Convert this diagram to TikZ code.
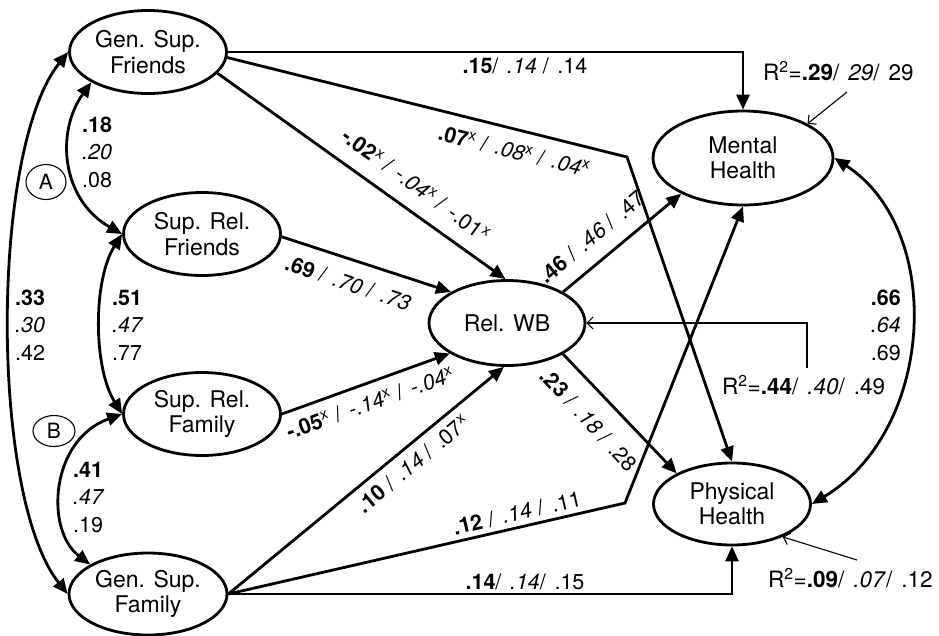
\documentclass[tikz,border=0pt]{standalone}
\usepackage{fontspec}
\setmainfont{TeX Gyre Heros}
\usepackage{tikz}
\usetikzlibrary{calc,shapes.geometric,arrows.meta}

\newcommand{\sx}{\textsuperscript{x}}
\newcommand{\slsep}{/\hspace{0.4em}}

\begin{document}
\begin{tikzpicture}[x=1pt,y=-1pt,
    latent/.style={draw,ellipse,line width=2.8pt,inner sep=0pt,align=center,
      font=\fontsize{23}{25.5}\selectfont},
    path/.style={line width=2.8pt,-{Triangle[length=15pt,width=13pt]}},
    corr/.style={line width=2.8pt,
      {Triangle[length=15pt,width=13pt]}-{Triangle[length=15pt,width=13pt]}},
    resid/.style={line width=1.1pt,-{Straight Barb[length=6pt,width=12pt]}},
    coef/.style={font=\fontsize{21.5}{24}\selectfont,inner sep=0pt},
    rsq/.style={font=\fontsize{22.5}{24}\selectfont,inner sep=0pt,anchor=base west},
    tag/.style={draw,ellipse,line width=1.1pt,inner sep=0pt,
      font=\fontsize{21}{24}\selectfont}]

  \useasboundingbox (0,0) rectangle (939,635);

  %% Latent variables
  \node[latent,minimum width=157,minimum height=83] (GSF)   at (148,52)  {Gen. Sup.\\Friends};
  \node[latent,minimum width=157,minimum height=83] (SRF)   at (202,234) {Sup. Rel.\\Friends};
  \node[latent,minimum width=157,minimum height=83] (SRFam) at (202,414) {Sup. Rel.\\Family};
  \node[latent,minimum width=158,minimum height=82] (GSFam) at (148,594) {Gen. Sup.\\Family};
  \node[latent,minimum width=156,minimum height=85] (RWB)   at (507,323) {Rel. WB};
  \node[latent,minimum width=180,minimum height=94] (MH)    at (743,158) {Mental\\Health};
  \node[latent,minimum width=157,minimum height=82] (PH)    at (732,504) {Physical\\Health};

  %% Tags
  \node[tag,minimum width=40,minimum height=35] (A) at (46,182) {A};
  \node[tag,minimum width=42,minimum height=31] (B) at (54,431) {B};

  %% Bends of the two long paths
  \coordinate (k1) at (627,157);
  \coordinate (k2) at (625,503);

  %% Paths
  \draw[path] (GSF.east) -| (MH.north);
  \draw[path] (GSF.-4) -- (k1) -- (PH.north);
  \draw[path] (GSF.-17) -- (RWB.92);
  \draw[path] (SRF.-2) -- (RWB.151);
  \draw[path] (SRFam.east) -- (RWB.208);
  \draw[path] (GSFam.east) -- (RWB.266);
  \draw[path] (GSFam.east) -- (k2) -- (MH.south);
  \draw[path] (GSFam.east) -| (PH.south);
  \draw[path] (RWB.29) -- (MH.210);
  \draw[path] (RWB.-29) -- (PH.151);

  %% Correlations
  \draw[corr] (GSF.west) .. controls (-10,150) and (-10,496) .. (GSFam.west);
  \draw[corr] (GSF.208) .. controls (55,133) and (62,200) .. (SRF.west);
  \draw[corr] (SRF.west) .. controls (93,280) and (93,367) .. (SRFam.west);
  \draw[corr] (SRFam.west) .. controls (50,440) and (45,530) .. (GSFam.153);
  \draw[corr] (MH.east) .. controls (945,230) and (935,430) .. (PH.east);

  \foreach \nm/\x/\y/\anc/\a/\b/\c in {rA/82/132/west/.18/.20/.08,
      rSR/112/305/west/.51/.47/.77, rGS/15/305/west/.33/.30/.42,
      rB/73/477/west/.41/.47/.19, rMP/901/305/east/.66/.64/.69}
  {
    \node[coef,anchor=base \anc] (\nm1) at (\x,\y)    {\textbf{\a}};
    \node[coef,anchor=base \anc] (\nm2) at (\x,\y+27) {\textit{\b}};
    \node[coef,anchor=base \anc] (\nm3) at (\x,\y+55) {\c};
  }

  %% Path coefficients
  \node[coef] (c1) at (525,66) {\textbf{.15}\slsep\textit{.14} \slsep.14};
  \node[coef,rotate=-14] (c2) at (514,151) {\textbf{.07}\sx{} \slsep\textit{.08}\sx{} \slsep\textit{.04}\sx};
  \node[coef,rotate=-36] (c3) at (416,185) {\textbf{-.02}\sx{} \slsep\textit{-.04}\sx{} \slsep-.01\sx};
  \node[coef,rotate=-18.5] (c4) at (348,283) {\textbf{.69} \slsep\textit{.70} \slsep\textit{.73}};
  \node[coef,rotate=19.6] (c5) at (370,403) {\textbf{-.05}\sx{} \slsep\textit{-.14}\sx{} \slsep\textit{-.04}\sx};
  \node[coef,rotate=39.6] (c6) at (413,464) {\textbf{.10} \slsep\textit{.14} \slsep.07\sx};
  \node[coef,rotate=13] (c7) at (517,513) {\textbf{.12} \slsep\textit{.14} \slsep.11};
  \node[coef] (c8) at (525,582) {\textbf{.14}\slsep\textit{.14}\slsep.15};
  \node[coef,rotate=40] (c9) at (592,237) {\textbf{.46} \slsep\textit{.46} \slsep.47};
  \node[coef,rotate=-47] (c10) at (589,420) {\textbf{.23} \slsep\textit{.18} \slsep.28};

  %% Explained variance
  \node[rsq] (R2MH) at (763,80)  {R\textsuperscript{2}=\textbf{.29}\slsep\textit{29}\slsep29};
  \node[rsq] (R2WB) at (722,394) {R\textsuperscript{2}=\textbf{.44}\slsep\textit{.40}\slsep.49};
  \node[rsq] (R2PH) at (768,587) {R\textsuperscript{2}=\textbf{.09}\slsep\textit{.07}\slsep.12};
  \coordinate (eMH) at (847,92);
  \coordinate (eWB) at (807,368);
  \coordinate (ePH) at (857,560);
  \draw[resid] (eMH) -- (MH.28);
  \draw[resid] (eWB) |- (RWB.east);
  \draw[resid] (ePH) -- (PH.-33);

\end{tikzpicture}
\end{document}
